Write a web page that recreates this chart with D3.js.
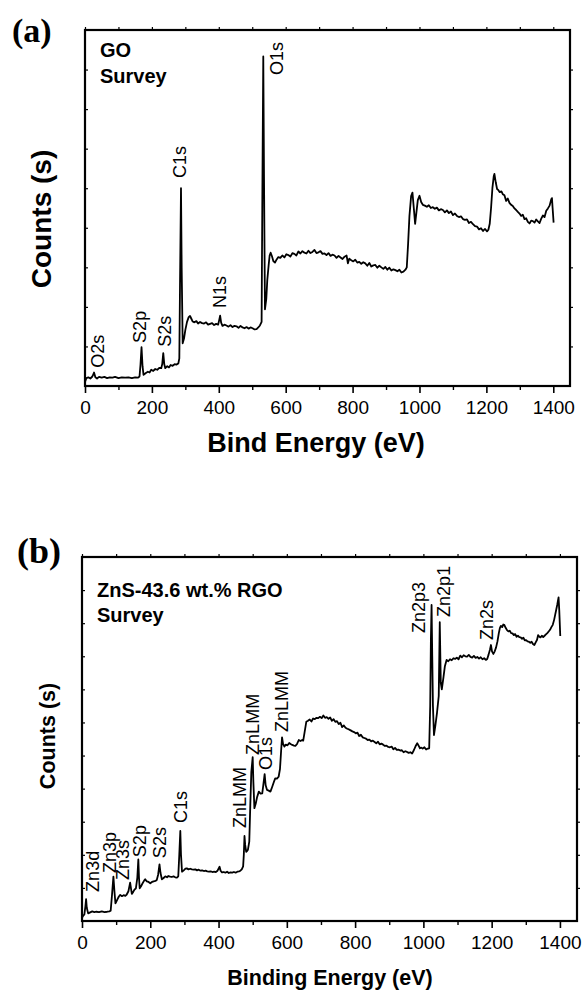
<!DOCTYPE html>
<html>
<head>
<meta charset="utf-8">
<script src="https://cdn.jsdelivr.net/npm/d3@7/dist/d3.min.js"></script>
<style>
  html, body { margin: 0; padding: 0; background: #fff; }
  svg { display: block; }
  text { fill: #000; }
</style>
</head>
<body>
<svg id="chart" width="585" height="994"></svg>
<script>
// ---------- Data ----------
const xMajorTicks = [0, 200, 400, 600, 800, 1000, 1200, 1400];
const xMinorTicks = [100, 300, 500, 700, 900, 1100, 1300];

// Panel (a): GO survey
const energyA = [0,4,10,16,22,27,31,36,42,50,58,66,74,82,90,100,110,120,130,140,150,158,163,166,169,172,175,182,188,193,198,204,210,216,222,228,231,234,237,240,246,251,256,262,268,273,279,282,284,287,289,292,296,300,305,310,314,318,
  322,327,333,338,344,350,356,362,368,374,380,386,392,398,
  401,404,407,
  411,417,423,429,435,441,447,453,459,465,471,477,483,489,495,501,507,513,
  518,523,528,530,533,535,538,542,545,549,552,555,559,563,568,573,578,584,
  590,596,602,608,614,620,626,632,638,644,650,656,662,668,674,680,686,692,698,704,710,716,722,728,734,740,746,752,758,764,770,776,782,
  786,
  790,796,802,808,814,820,826,832,838,844,850,856,862,868,874,880,886,892,898,904,910,916,922,928,934,940,946,952,958,
  962,966,970,975,979,983,987,991,995,1000,1005,1010,
  1016,1022,1028,1034,1040,1046,1052,1058,1064,1070,1076,1082,1088,1094,1100,1106,1112,1118,1124,1130,1136,1142,1148,1154,1160,1166,1172,1178,1184,1190,1196,1202,1206,
  1210,1214,1218,1222,1224,1228,1232,1236,1240,1245,
  1249,1254,1259,1264,1269,1274,1279,1284,1289,1294,1299,1304,1309,1314,1319,1324,1329,1334,1339,1344,1349,1354,1359,1364,1369,1374,1379,1384,1389,1394,
  1396,1398,1401];
const countsA = [0.10,0.20,0.22,0.19,0.24,0.34,0.22,0.19,0.23,0.21,0.23,0.20,0.22,0.21,0.23,0.20,0.22,0.21,0.22,0.20,0.22,0.21,0.24,0.55,0.98,0.50,0.28,0.33,0.36,0.34,0.41,0.38,0.43,0.41,0.46,0.45,0.56,0.83,0.55,0.45,0.50,0.47,0.53,0.51,0.55,0.54,0.57,0.70,2.5,5.0,3.0,1.08,1.20,1.42,1.62,1.74,1.77,1.70,
  1.63,1.61,1.64,1.58,1.62,1.59,1.58,1.61,1.55,1.57,1.59,1.54,1.57,1.55,
  1.66,1.78,1.60,
  1.52,1.55,1.53,1.50,1.54,1.49,1.52,1.51,1.47,1.52,1.48,1.46,1.49,1.45,1.48,1.46,1.43,1.44,
  1.48,1.53,1.62,4.5,8.33,5.5,1.94,2.20,2.68,3.05,3.30,3.37,3.28,3.16,3.12,3.20,3.26,3.24,
  3.30,3.25,3.33,3.31,3.27,3.36,3.34,3.30,3.40,3.35,3.41,3.37,3.35,3.42,3.36,3.39,3.44,3.36,3.38,3.41,3.34,3.35,3.31,3.36,3.29,3.32,3.30,3.24,3.29,3.25,3.21,3.27,3.30,
  3.10,
  3.22,3.18,3.15,3.19,3.12,3.14,3.09,3.13,3.10,3.04,3.11,3.02,3.05,3.06,2.99,3.04,3.00,2.96,3.01,2.94,2.99,2.92,2.95,2.93,2.90,2.94,2.87,2.89,2.94,
  3.00,3.6,4.3,4.8,4.89,4.5,4.10,4.4,4.7,4.81,4.65,4.58,
  4.56,4.53,4.57,4.50,4.52,4.48,4.51,4.44,4.47,4.45,4.39,4.44,4.37,4.41,4.32,4.36,4.30,4.27,4.29,4.22,4.20,4.21,4.12,4.15,4.09,4.04,4.03,3.96,3.99,3.92,3.97,3.91,3.95,
  4.10,4.5,5.0,5.30,5.36,5.15,4.98,4.95,4.90,4.92,
  4.85,4.82,4.68,4.74,4.63,4.58,4.55,4.49,4.45,4.40,4.36,4.30,4.33,4.22,4.24,4.15,4.11,4.18,4.17,4.13,4.21,4.16,4.12,4.23,4.31,4.27,4.43,4.49,4.56,4.72,
  4.75,4.5,4.13];
const peakNamesA = ["O2s", "S2p", "S2s", "C1s", "N1s", "O1s"];
const peakEnergyA = [37, 164, 238, 284, 402, 574];
const peakLevelA = [0.46, 1.09, 0.99, 5.26, 1.97, 7.86];

// Panel (b): ZnS-43.6 wt.% RGO survey
const energyB = [0,3,7,10,12,14,18,24,30,36,42,50,58,66,74,80,84,88,92,95,98,103,108,112,117,122,127,131,136,141,144,146,150,154,158,162,165,167,169,173,178,182,185,190,195,200,205,210,215,219,223,227,230,234,239,244,249,253,258,263,268,273,278,282,285,288,290,293,
  298,303,307,312,317,322,327,332,337,342,347,352,357,362,367,372,377,382,387,392,397,400,403,406,410,415,420,425,430,435,440,445,450,455,460,
  464,468,472,474,476,478,481,484,486,490,493,496,500,502,505,509,513,518,523,528,531,535,538,542,547,552,557,562,566,571,576,580,583,586,589,593,597,602,607,611,616,621,625,630,635,640,645,648,652,657,
  662,667,672,677,682,687,692,
  697,702,707,712,717,722,727,732,737,742,747,752,757,762,767,772,777,782,787,792,797,802,807,812,817,822,827,832,837,842,847,852,857,862,867,872,877,882,887,892,897,902,907,912,917,922,927,932,937,942,947,952,957,962,967,972,
  977,982,986,990,994,998,1003,1008,1013,1017,
  1020,1022,1024,1026,1028,1031,1035,1040,1045,1048,1051,1054,1059,1063,1068,
  1073,1078,1083,1088,1093,1098,1103,1108,1113,1118,1123,1128,1133,1138,1143,1148,1153,1158,1163,1168,1173,1178,1183,
  1187,1191,1195,1198,1201,1205,1209,1213,1217,1221,1224,1227,1231,1234,1237,
  1241,1245,1249,1253,1257,1261,1265,1269,1273,1277,1281,1285,1289,1293,1297,1301,1305,1309,1313,1317,1321,1325,
  1329,1333,1336,1339,1343,1347,1351,1355,1359,1363,1367,1371,1375,1379,1383,1386,1389,1392,1396,1398,1401];
const countsB = [0.10,0.15,0.20,0.45,0.66,0.40,0.23,0.26,0.29,0.27,0.28,0.27,0.29,0.27,0.28,0.29,0.31,0.80,1.34,0.90,0.53,0.64,0.74,0.79,0.75,0.78,0.76,0.80,0.90,1.16,0.95,0.82,0.88,0.95,0.99,1.30,1.86,1.30,0.99,1.05,1.15,1.22,1.26,1.20,1.18,1.14,1.18,1.20,1.21,1.24,1.40,1.71,1.45,1.26,1.30,1.35,1.32,1.36,1.34,1.33,1.35,1.32,1.31,1.35,2.0,2.72,2.0,1.49,
  1.53,1.58,1.59,1.56,1.58,1.56,1.55,1.56,1.53,1.55,1.52,1.53,1.51,1.52,1.50,1.49,1.50,1.48,1.49,1.48,1.52,1.58,1.64,1.52,1.47,1.48,1.46,1.49,1.45,1.47,1.46,1.48,1.46,1.49,1.50,
  1.52,1.56,1.65,2.0,2.57,2.3,2.09,2.12,2.15,2.4,3.5,4.5,4.95,4.2,3.41,3.55,3.75,3.91,3.85,3.86,4.1,4.44,4.1,3.96,3.94,3.91,4.05,4.20,4.31,4.30,4.36,4.6,5.1,5.55,5.35,5.27,5.33,5.31,5.38,5.35,5.32,5.30,5.29,5.35,5.47,5.44,5.47,5.45,5.70,6.02,
  6.05,6.09,6.03,6.12,6.10,6.14,6.13,
  6.17,6.13,6.21,6.14,6.16,6.11,6.15,6.05,6.10,6.02,6.04,5.95,5.99,5.86,5.91,5.84,5.81,5.79,5.76,5.73,5.71,5.67,5.69,5.59,5.63,5.55,5.53,5.51,5.47,5.48,5.43,5.45,5.41,5.37,5.42,5.34,5.36,5.33,5.29,5.30,5.26,5.25,5.27,5.19,5.23,5.17,5.18,5.15,5.16,5.10,5.13,5.11,5.08,5.10,5.06,5.16,
  5.28,5.37,5.30,5.22,5.24,5.21,5.25,5.18,5.21,5.22,
  6.5,8.5,9.55,8.0,6.5,5.62,5.9,6.3,6.8,9.03,7.2,7.0,7.38,7.7,7.89,
  7.85,7.91,7.88,7.94,7.92,7.96,7.91,8.02,7.97,8.03,8.00,7.99,8.04,7.98,7.96,8.01,7.95,7.98,7.93,7.97,7.91,7.94,7.89,
  7.92,8.05,8.20,8.34,8.15,8.07,8.15,8.27,8.45,8.70,8.85,8.92,8.88,8.96,8.95,
  8.86,8.79,8.75,8.77,8.70,8.69,8.64,8.67,8.59,8.62,8.58,8.57,8.53,8.56,8.48,8.49,8.45,8.44,8.41,8.44,8.37,8.34,
  8.42,8.50,8.64,8.60,8.57,8.62,8.58,8.62,8.66,8.70,8.75,8.80,8.88,8.95,9.10,9.25,9.40,9.55,9.78,9.40,8.61];
const peakNamesB = ["Zn3d", "Zn3p", "Zn3s", "S2p", "S2s", "C1s", "ZnLMM", "ZnLMM", "O1s", "ZnLMM", "Zn2p3", "Zn2p1", "Zn2s"];
const peakEnergyB = [32, 82, 120, 168, 228, 289, 461, 499, 538, 584, 986, 1059, 1185];
const peakLevelB = [0.88, 1.45, 1.24, 1.93, 1.90, 2.96, 2.81, 5.02, 4.56, 5.71, 8.70, 9.19, 8.49];

// ---------- Drawing ----------
const SANS = "'Liberation Sans', Arial, Helvetica, sans-serif";
const SERIF = "'Liberation Serif', 'Times New Roman', Times, serif";
const svg = d3.select("#chart");

function drawPanel(p) {
  if (p.energy.length !== p.counts.length) console.error("length mismatch", p.energy.length, p.counts.length);
  const x = d3.scaleLinear().domain([0, 1450]).range([p.left, p.right]);
  const y = d3.scaleLinear().domain([0, p.yMax]).range([p.bottom, p.top]);
  const g = svg.append("g");
  const yTicks = d3.range(1, p.yMax);

  const axB = g.append("g").attr("transform", `translate(0,${p.bottom})`)
    .call(d3.axisBottom(x).tickValues(xMajorTicks).tickSize(7).tickPadding(8).tickFormat(d3.format("d")));
  axB.select(".domain").remove();
  axB.selectAll("line").attr("stroke", "#000").attr("stroke-width", 1.6);
  axB.selectAll("text").style("font-size", p.tickFont + "px").style("font-family", SANS).attr("fill", "#000");
  const axBm = g.append("g").attr("transform", `translate(0,${p.bottom})`)
    .call(d3.axisBottom(x).tickValues(xMinorTicks).tickSize(4).tickFormat(""));
  axBm.select(".domain").remove();
  axBm.selectAll("line").attr("stroke", "#000").attr("stroke-width", 1.4);
  const axT = g.append("g").attr("transform", `translate(0,${p.top})`)
    .call(d3.axisTop(x).tickValues(xMajorTicks.concat(xMinorTicks)).tickSize(3).tickFormat(""));
  axT.select(".domain").remove();
  axT.selectAll("line").attr("stroke", "#000").attr("stroke-width", 1.2);
  const axL = g.append("g").attr("transform", `translate(${p.left},0)`)
    .call(d3.axisRight(y).tickValues(yTicks).tickSize(3).tickFormat(""));
  axL.select(".domain").remove();
  axL.selectAll("line").attr("stroke", "#000").attr("stroke-width", 1.2);
  const axR = g.append("g").attr("transform", `translate(${p.right},0)`)
    .call(d3.axisRight(y).tickValues(yTicks).tickSize(3).tickFormat(""));
  axR.select(".domain").remove();
  axR.selectAll("line").attr("stroke", "#000").attr("stroke-width", 1.2);

  g.append("rect").attr("x", p.left).attr("y", p.top)
    .attr("width", p.right - p.left).attr("height", p.bottom - p.top)
    .attr("fill", "none").attr("stroke", "#000").attr("stroke-width", 2.2);

  const pts = p.energy.map((e, i) => [e, p.counts[i]]);
  g.append("path").datum(pts)
    .attr("d", d3.line().x(d => x(d[0])).y(d => y(d[1])))
    .attr("fill", "none").attr("stroke", "#000").attr("stroke-width", 1.8)
    .attr("stroke-linejoin", "round");

  p.names.forEach((n, i) => {
    g.append("text")
      .attr("transform", `translate(${x(p.pe[i])},${y(p.pl[i])}) rotate(-90)`)
      .attr("dy", "0.35em")
      .style("font-family", SANS).style("font-size", "18px")
      .text(n);
  });

  p.sample.forEach((t, i) => {
    g.append("text").attr("x", p.sampleX).attr("y", p.sampleY[i])
      .style("font-family", SANS).style("font-size", p.sampleFont + "px").style("font-weight", "bold").text(t);
  });

  g.append("text").attr("x", p.xTitleX).attr("y", p.xTitleY)
    .attr("text-anchor", "middle")
    .style("font-family", SANS).style("font-size", p.titleFont + "px").style("font-weight", "bold")
    .text(p.xTitle);
  g.append("text")
    .attr("transform", `translate(${p.yTitleX},${p.yTitleY}) rotate(-90)`)
    .attr("text-anchor", "middle")
    .style("font-family", SANS).style("font-size", p.yTitleFont + "px").style("font-weight", "bold")
    .text("Counts (s)");

  g.append("text").attr("x", p.letterX).attr("y", p.letterY)
    .style("font-family", SERIF).style("font-size", p.letterFont + "px").style("font-weight", "bold")
    .text(p.letter);
}

drawPanel({
  left: 85, right: 570, top: 30, bottom: 386, yMax: 9,
  energy: energyA, counts: countsA, names: peakNamesA, pe: peakEnergyA, pl: peakLevelA,
  tickFont: 19, sample: ["GO", "Survey"], sampleX: 100, sampleY: [57, 83], sampleFont: 20,
  xTitle: "Bind Energy (eV)", xTitleX: 316, xTitleY: 452, titleFont: 27,
  yTitleX: 51, yTitleY: 219, yTitleFont: 28,
  letter: "(a)", letterX: 12, letterY: 42, letterFont: 34
});

drawPanel({
  left: 82, right: 577, top: 557, bottom: 921, yMax: 11,
  energy: energyB, counts: countsB, names: peakNamesB, pe: peakEnergyB, pl: peakLevelB,
  tickFont: 19, sample: ["ZnS-43.6 wt.% RGO", "Survey"], sampleX: 97, sampleY: [597, 622], sampleFont: 20,
  xTitle: "Binding Energy (eV)", xTitleX: 330, xTitleY: 985, titleFont: 21.5,
  yTitleX: 55, yTitleY: 736, yTitleFont: 21.5,
  letter: "(b)", letterX: 17, letterY: 563, letterFont: 36
});
</script>
</body>
</html>
